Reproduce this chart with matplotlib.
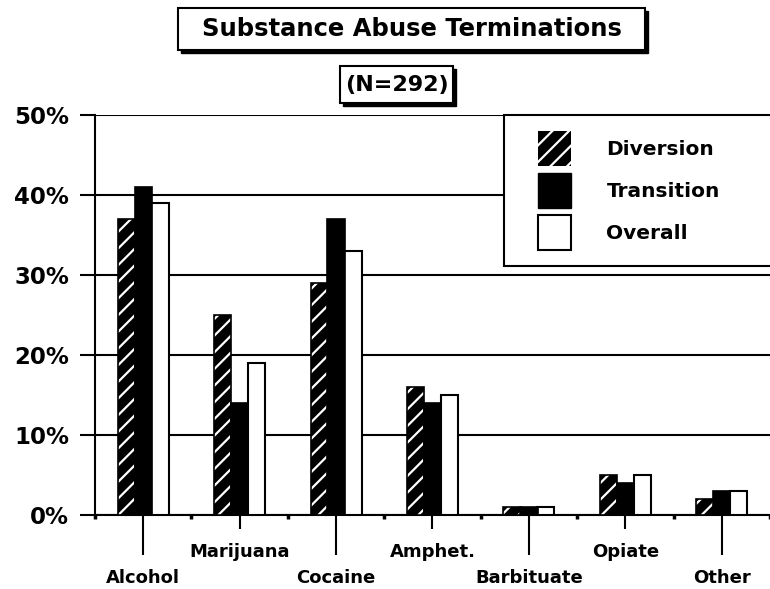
import matplotlib.pyplot as plt
from matplotlib.patches import Rectangle, Patch
import numpy as np

categories = ["Alcohol", "Marijuana", "Cocaine", "Amphet.", "Barbituate", "Opiate", "Other"]
diversion = [37, 25, 29, 16, 1, 5, 2]
transition = [41, 14, 37, 14, 1, 4, 3]
overall = [39, 19, 33, 15, 1, 5, 3]
series_names = ["Diversion", "Transition", "Overall"]
yticks = [0, 10, 20, 30, 40, 50]
ytick_labels = ["0%", "10%", "20%", "30%", "40%", "50%"]

plt.rcParams["font.family"] = ["DejaVu Sans"]
plt.rcParams["hatch.linewidth"] = 1.6

W, H = 770, 589
fig = plt.figure(figsize=(W / 100, H / 100), dpi=100)
ax = fig.add_axes([95 / W, 1 - 515 / H, 1 - 95 / W, 400 / H])

x = np.arange(len(categories))
w = 0.18
off = 0.175

# diversion: black with white stripes, then a black outline on top
ax.bar(x - off, diversion, w, color="black", edgecolor="white", hatch="//", linewidth=0, zorder=3)
ax.bar(x - off, diversion, w, facecolor="none", edgecolor="black", linewidth=1.2, zorder=3)
ax.bar(x + off, overall, w, color="white", edgecolor="black", linewidth=1.5, zorder=3)
ax.bar(x, transition, w, color="black", edgecolor="black", linewidth=1.2, zorder=4)

ax.set_xlim(-0.5, len(categories) - 0.5)
ax.set_ylim(0, 50)
ax.set_yticks(yticks)
ax.set_yticklabels(ytick_labels, fontsize=16.5, fontweight="bold")
ax.tick_params(axis="y", length=15 * 0.72, width=1.5, pad=8)
ax.yaxis.grid(True, color="black", linewidth=1.5, zorder=1)
ax.set_axisbelow(True)

for s in ["top", "right"]:
    ax.spines[s].set_visible(False)
ax.spines["left"].set_linewidth(1.5)
ax.spines["bottom"].set_linewidth(1.5)

ax.set_xticks(x)
ax.set_xticklabels([])
ax.set_xticks(np.arange(len(categories) + 1) - 0.5, minor=True)
ax.tick_params(axis="x", which="major", length=10, width=1.5)
ax.tick_params(axis="x", which="minor", length=3, width=2.5)
for i, t in enumerate(ax.xaxis.get_major_ticks()):
    if i % 2 == 0:
        t.tick1line.set_markersize(29)

trans = ax.get_xaxis_transform()
for i, c in enumerate(categories):
    yy = -0.158 if i % 2 == 0 else -0.093
    ax.text(x[i], yy, c, transform=trans, ha="center", va="center",
            fontsize=13, fontweight="bold")

# legend: frame drawn separately, entries placed by the legend
frame = Rectangle((504 / W, 1 - 266 / H), (W + 10 - 504) / W, (266 - 115) / H,
                  transform=fig.transFigure, facecolor="white", edgecolor="black",
                  linewidth=1.5, zorder=5)
fig.patches.append(frame)
handles = [
    Patch(facecolor="black", edgecolor="white", hatch="//", linewidth=0),
    Patch(facecolor="black", edgecolor="black"),
    Patch(facecolor="white", edgecolor="black", linewidth=1.5),
]
leg = fig.legend(handles, series_names, loc="upper left",
                 bbox_to_anchor=(538 / W, 1 - 131 / H), frameon=False,
                 prop={"size": 14.5, "weight": "bold"},
                 handlelength=1.65, handleheight=2.3,
                 labelspacing=0.34, handletextpad=1.75, borderpad=0, borderaxespad=0)
leg.set_zorder(6)


# title boxes with drop shadow
def boxed(text, x0, y0, x1, y1, size):
    shadow = Rectangle((x0 / W + 3 / W, 1 - y1 / H - 3 / H), (x1 - x0) / W, (y1 - y0) / H,
                       transform=fig.transFigure, facecolor="black", edgecolor="black")
    box = Rectangle((x0 / W, 1 - y1 / H), (x1 - x0) / W, (y1 - y0) / H,
                    transform=fig.transFigure, facecolor="white", edgecolor="black", linewidth=1.5)
    fig.patches.extend([shadow, box])
    fig.text((x0 + x1) / 2 / W, 1 - (y0 + y1) / 2 / H, text, ha="center", va="center",
             fontsize=size, fontweight="bold")


boxed("Substance Abuse Terminations", 178, 8, 645, 50, 17.5)
boxed("(N=292)", 340, 66, 453, 103, 16)

fig.savefig("out.png", dpi=100)
